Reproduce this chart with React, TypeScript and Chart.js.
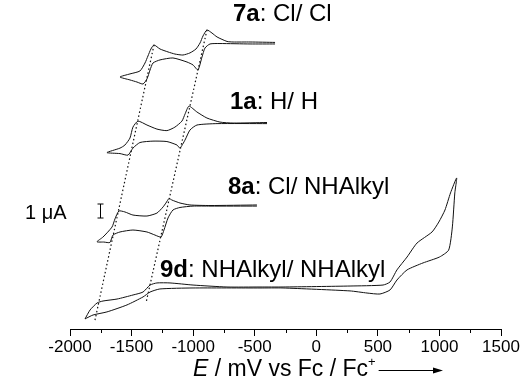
import React, { useEffect, useRef } from 'react';
import { Chart, registerables } from 'chart.js';
Chart.register(...registerables);

const FONT = "'Liberation Sans', Arial, sans-serif";

const xTicks = [-2000, -1500, -1000, -500, 0, 500, 1000, 1500];
const xMinorTicks = [-1750, -1250, -750, -250, 250, 750, 1250];

// potentials (mV vs Fc/Fc+) and currents (µA, relative to each trace's baseline)
const cv7aE = [-335, -538, -676, -725, -806, -847, -888, -920, -944, -977, -1026, -1083, -1148, -1204, -1269, -1318, -1343, -1367, -1391, -1432, -1513, -1594, -1513, -1456, -1407, -1375, -1350, -1326, -1269, -1164, -1050, -1001, -961, -928, -904, -863, -782, -538, -335];
const cv7aI = [0.04, 0.07, 0.07, 0.11, 0.43, 0.71, 0.93, 0.5, 0, -0.43, -0.71, -0.86, -0.79, -0.64, -0.43, -0.14, -0.43, -0.93, -1.43, -2.0, -2.21, -2.43, -2.64, -2.79, -2.93, -2.57, -1.93, -1.43, -1.21, -1.07, -1.36, -1.57, -1.93, -1.0, -0.36, -0.07, -0.04, -0.07, -0.07];

const cv1aE = [-400, -676, -782, -888, -969, -1034, -1066, -1091, -1148, -1213, -1294, -1375, -1448, -1489, -1513, -1554, -1594, -1700, -1594, -1529, -1489, -1432, -1326, -1213, -1131, -1107, -1066, -1026, -969, -806, -400];
const cv1aI = [0.04, 0, 0.07, 0.36, 0.79, 1.21, 0.64, 0.14, -0.29, -0.54, -0.43, -0.14, 0.14, -0.29, -1.07, -1.57, -1.79, -2.11, -2.18, -2.29, -1.79, -1.39, -1.29, -1.32, -1.57, -1.79, -1.21, -0.5, -0.14, -0.04, -0.04];

const cv8aE = [-482, -863, -1026, -1107, -1172, -1196, -1221, -1245, -1294, -1375, -1489, -1554, -1603, -1635, -1659, -1732, -1781, -1724, -1676, -1651, -1594, -1489, -1375, -1310, -1261, -1237, -1204, -1164, -1107, -1001, -863, -482];
const cv8aI = [0.04, 0, 0.04, 0.18, 0.39, 0.5, 0.18, -0.11, -0.54, -0.75, -0.68, -0.46, -0.39, -0.96, -1.54, -2.25, -2.59, -2.61, -2.64, -2.11, -1.89, -1.75, -1.89, -2.11, -2.25, -1.75, -0.89, -0.32, -0.14, -0.04, -0.04, -0.04];

const cv9dE = [-1878, -1837, -1780, -1732, -1618, -1488, -1407, -1350, -1294, -1188, -1001, -725, -457, -270, 274, 542, 599, 655, 737, 818, 940, 995, 1045, 1090, 1140, 1125, 1105, 1075, 1000, 867, 737, 655, 599, 517, 412, 274, -270, -457, -1001, -1270, -1350, -1407, -1537, -1700, -1813, -1878];
const cv9dI = [-2.21, -1.57, -1.07, -0.93, -0.79, -0.5, -0.29, 0.21, 0.36, 0.36, 0.21, 0.07, 0.07, 0.07, 0.14, 0.21, 0.43, 1.29, 2.21, 3.21, 4.0, 4.71, 5.57, 6.79, 7.86, 6.79, 4.36, 2.71, 2.21, 1.79, 1.29, 0.57, -0.14, -0.43, -0.36, -0.21, 0, 0, 0, -0.07, -0.29, -0.64, -1.21, -1.71, -1.93, -2.21];

// vertical stacking offsets (µA) for 7a, 1a, 8a, 9d
const traceOffsets = [20.43, 14.71, 8.82, 2.93];

// dotted guide lines through the peaks (absolute stacked µA)
const guideLeftE = [-1318, -1797];
const guideLeftI = [20.29, 0.64];
const guideRightE = [-888, -1383];
const guideRightI = [21.36, 1.86];

const labelBold = ['7a', '1a', '8a', '9d'];
const labelRest = [': Cl/ Cl', ': H/ H', ': Cl/ NHAlkyl', ': NHAlkyl/ NHAlkyl'];

const toPts = (E: number[], I: number[], off: number) => E.map((e, i) => ({ x: e, y: I[i] + off }));

export default function App() {
  const ref = useRef<HTMLCanvasElement>(null);
  useEffect(() => {
    document.body.style.margin = '0';
    const canvas = ref.current!;
    const traceStyle = { showLine: true, pointRadius: 0, borderColor: '#111', borderWidth: 1, tension: 0.2, fill: false };
    const guideStyle = { showLine: true, pointRadius: 0, borderColor: '#111', borderWidth: 1.2, borderDash: [1.5, 2.5], tension: 0, fill: false };

    const annot = {
      id: 'annot',
      afterDraw(chart: any) {
        const { ctx, chartArea, scales } = chart;
        const xs = scales.x, ys = scales.y;
        ctx.save();
        ctx.strokeStyle = '#000';
        ctx.lineWidth = 1;
        // minor ticks
        xMinorTicks.forEach((v) => {
          const px = Math.round(xs.getPixelForValue(v)) + 0.5;
          ctx.beginPath();
          ctx.moveTo(px, chartArea.bottom);
          ctx.lineTo(px, chartArea.bottom + 4);
          ctx.stroke();
        });
        // labels
        ctx.fillStyle = '#000';
        ctx.textBaseline = 'alphabetic';
        const lpos = [[233, 21], [230, 109], [228, 194], [160, 277]];
        labelBold.forEach((b, i) => {
          const [lx, ly] = lpos[i];
          ctx.font = `bold 24px ${FONT}`;
          ctx.fillText(b, lx, ly);
          const w = ctx.measureText(b).width;
          ctx.font = `24px ${FONT}`;
          ctx.fillText(labelRest[i], lx + w, ly);
        });
        // scale bar 1 µA
        ctx.font = `20px ${FONT}`;
        ctx.fillText('1 \u03bcA', 25, 219);
        const h = ys.getPixelForValue(0) - ys.getPixelForValue(1);
        const bx = 100.5, by = 218;
        ctx.beginPath();
        ctx.moveTo(bx, by); ctx.lineTo(bx, by - h);
        ctx.moveTo(bx - 3, by); ctx.lineTo(bx + 3, by);
        ctx.moveTo(bx - 3, by - h); ctx.lineTo(bx + 3, by - h);
        ctx.stroke();
        // axis title
        const ty = 376;
        let tx = 193;
        ctx.font = `italic 23px ${FONT}`;
        ctx.fillText('E', tx, ty);
        tx += ctx.measureText('E').width;
        ctx.font = `23px ${FONT}`;
        const t2 = ' / mV vs Fc / Fc';
        ctx.fillText(t2, tx, ty);
        tx += ctx.measureText(t2).width;
        ctx.font = `13px ${FONT}`;
        ctx.fillText('+', tx, ty - 10);
        tx += ctx.measureText('+').width + 3;
        ctx.beginPath();
        ctx.moveTo(tx, ty - 5.5); ctx.lineTo(436, ty - 5.5);
        ctx.stroke();
        ctx.beginPath();
        ctx.moveTo(443, ty - 5.5); ctx.lineTo(433, ty - 8.5); ctx.lineTo(433, ty - 2.5); ctx.closePath();
        ctx.fill();
        ctx.restore();
      },
    };

    const chart = new Chart(canvas, {
      type: 'scatter',
      data: {
        datasets: [
          { data: toPts(cv7aE, cv7aI, traceOffsets[0]), ...traceStyle },
          { data: toPts(cv1aE, cv1aI, traceOffsets[1]), ...traceStyle },
          { data: toPts(cv8aE, cv8aI, traceOffsets[2]), ...traceStyle },
          { data: toPts(cv9dE, cv9dI, traceOffsets[3]), ...traceStyle },
          { data: toPts(guideLeftE, guideLeftI, 0), ...guideStyle },
          { data: toPts(guideRightE, guideRightI, 0), ...guideStyle },
        ] as any,
      },
      options: {
        responsive: false,
        animation: false,
        layout: { padding: { left: 70, right: 30, top: 0, bottom: 0 } },
        plugins: { legend: { display: false }, tooltip: { enabled: false } },
        scales: {
          x: {
            type: 'linear',
            min: -2000,
            max: 1500,
            afterBuildTicks: (s: any) => { s.ticks = xTicks.map((v) => ({ value: v })); },
            afterFit: (s: any) => { s.height = 60; },
            grid: { drawOnChartArea: false, drawTicks: true, tickLength: 7, color: '#000', lineWidth: 1 },
            border: { display: true, color: '#000', width: 1 },
            ticks: { color: '#000', font: { family: FONT, size: 17 }, padding: 1, maxRotation: 0, callback: (v: any) => String(v) },
          },
          y: { display: false, min: 0, max: 23.5 },
        },
      } as any,
      plugins: [annot],
    });
    return () => chart.destroy();
  }, []);
  return <canvas ref={ref} width={531} height={389} style={{ display: 'block' }} />;
}
